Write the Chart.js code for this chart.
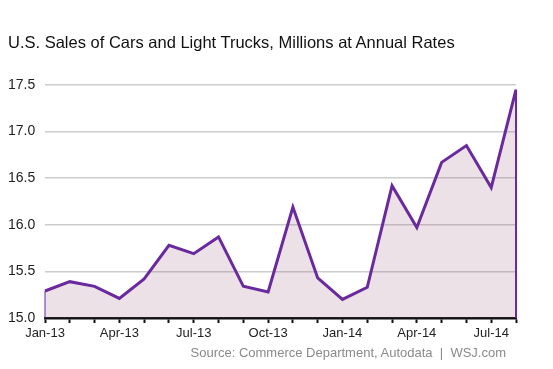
<!DOCTYPE html>
<html>
<head>
<meta charset="utf-8">
<script src="https://cdn.jsdelivr.net/npm/chart.js@4.4.1/dist/chart.umd.min.js"></script>
<style>
  html, body { margin: 0; padding: 0; background: #fff; }
  #wrap { position: relative; width: 553px; height: 369px; overflow: hidden; font-family: "Liberation Sans", Arial, sans-serif; }
  #title { position: absolute; left: 8px; top: 34px; font-size: 16.5px; line-height: 1; color: #111; white-space: nowrap; }
  #source { position: absolute; right: 47px; top: 346px; font-size: 13px; line-height: 1; color: #8a8a8a; white-space: nowrap; }
  #chart { position: absolute; left: 0; top: 0; }
</style>
</head>
<body>
<div id="wrap">
  <canvas id="chart" width="553" height="369"></canvas>
  <div id="title">U.S. Sales of Cars and Light Trucks, Millions at Annual Rates</div>
  <div id="source">Source: Commerce Department, Autodata &nbsp;|&nbsp; WSJ.com</div>
</div>
<script>
// monthly, Jan 2013 - Aug 2014
const months = ['Jan-13', 'Feb-13', 'Mar-13', 'Apr-13', 'May-13', 'Jun-13', 'Jul-13', 'Aug-13', 'Sep-13', 'Oct-13',
    'Nov-13', 'Dec-13', 'Jan-14', 'Feb-14', 'Mar-14', 'Apr-14', 'May-14', 'Jun-14', 'Jul-14', 'Aug-14'];
const sales = [15.29, 15.39, 15.34, 15.21, 15.42, 15.78, 15.69, 15.87, 15.34, 15.28,
    16.19, 15.43, 15.20, 15.33, 16.42, 15.97, 16.67, 16.85, 16.40, 17.45];
const shownLabels = ['Jan-13', 'Apr-13', 'Jul-13', 'Oct-13', 'Jan-14', 'Apr-14', 'Jul-14'];
const yTicks = [15.0, 15.5, 16.0, 16.5, 17.0, 17.5];

const purple = '#6a2a9e';

// closes the area with vertical lines at both ends, like the original
const edgeLines = {
    id: 'edgeLines',
    afterDatasetsDraw(chart) {
        const pts = chart.getDatasetMeta(0).data;
        const bottom = chart.scales.y.bottom;
        const ctx = chart.ctx;
        ctx.save();
        ctx.strokeStyle = purple;
        ctx.lineWidth = 1;
        ctx.beginPath();
        ctx.moveTo(pts[0].x, pts[0].y);
        ctx.lineTo(pts[0].x, bottom);
        ctx.stroke();
        const last = pts[pts.length - 1];
        ctx.lineWidth = 2;
        ctx.beginPath();
        ctx.moveTo(last.x, last.y);
        ctx.lineTo(last.x, bottom);
        ctx.stroke();
        ctx.restore();
    }
};

const ctx = document.getElementById('chart').getContext('2d');
new Chart(ctx, {
    type: 'line',
    data: {
        labels: months,
        datasets: [{
            data: sales,
            borderColor: purple,
            borderWidth: 3,
            backgroundColor: 'rgba(150, 90, 120, 0.18)',
            fill: 'origin',
            tension: 0,
            pointRadius: 0,
            borderJoinStyle: 'miter'
        }]
    },
    options: {
        responsive: false,
        animation: false,
        layout: { padding: { left: 8, right: 37, top: 85, bottom: 0 } },
        plugins: { legend: { display: false }, tooltip: { enabled: false } },
        scales: {
            x: {
                offset: false,
                grid: { color: 'rgba(0,0,0,0)', tickColor: '#111', tickLength: 5, tickWidth: 2 },
                border: { color: '#111', width: 2.5 },
                ticks: {
                    autoSkip: false,
                    maxRotation: 0,
                    padding: 3,
                    color: '#222',
                    font: { family: '"Liberation Sans Narrow", "Arial Narrow", "Liberation Sans", Arial', size: 13 },
                    callback: (v, i) => shownLabels.includes(months[i]) ? months[i] : ''
                },
                afterFit: (scale) => { scale.height = 51; }
            },
            y: {
                min: 15.0,
                max: 17.5,
                afterBuildTicks: (scale) => { scale.ticks = yTicks.map(v => ({ value: v })); },
                grid: { color: '#cccccc', lineWidth: 1.5, drawTicks: false },
                border: { display: false },
                ticks: {
                    padding: 0,
                    crossAlign: 'far',
                    color: '#222',
                    font: { family: '"Liberation Sans", Arial', size: 14 },
                    callback: (v) => v.toFixed(1)
                },
                afterFit: (scale) => { scale.width = 37; }
            }
        }
    },
    plugins: [edgeLines]
});
</script>
</body>
</html>
